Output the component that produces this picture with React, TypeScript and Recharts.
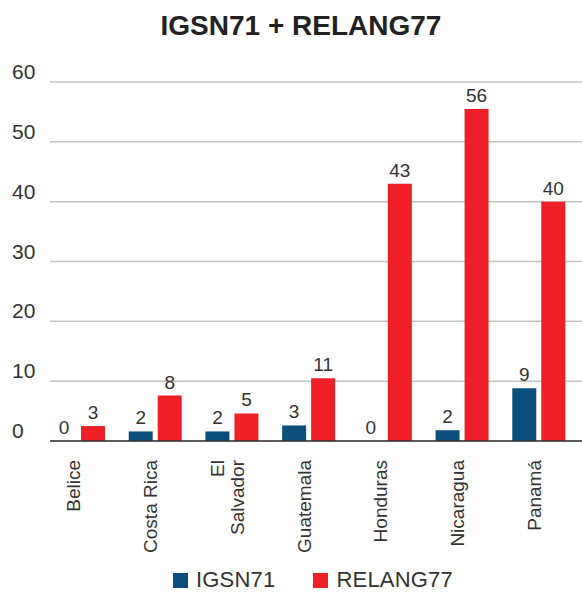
import React, { useEffect } from "react";
import {
  BarChart,
  Bar,
  XAxis,
  YAxis,
  CartesianGrid,
  Legend,
  LabelList,
} from "recharts";

// values
const countries = [
  "Belice",
  "Costa Rica",
  "El Salvador",
  "Guatemala",
  "Honduras",
  "Nicaragua",
  "Panamá",
];
const igsn71 = [0, 1.6, 1.6, 2.6, 0, 1.8, 8.8];
const relang77 = [2.5, 7.6, 4.6, 10.5, 43, 55.5, 40];
const yTicks = [0, 10, 20, 30, 40, 50, 60];

const data = countries.map((name, i) => ({
  name,
  igsn: igsn71[i],
  relang: relang77[i],
}));

const FONT = "'Liberation Sans', Arial, Helvetica, sans-serif";
const TEXT = "#333333";
const BLUE = "#0c4f7c";
const RED = "#ee1f26";

const YTick = (props: any) => {
  const { y, payload } = props;
  return (
    <text x={12} y={y - 3} fontSize={21} fill={TEXT} fontFamily={FONT}>
      {payload.value}
    </text>
  );
};

const XTick = (props: any) => {
  const { x, y, payload } = props;
  const label: string = payload.value;
  // El Salvador is split onto two lines in the original
  const lines = label === "El Salvador" ? ["El", "Salvador"] : [label];
  const lh = 20;
  const base = x - 5 + 7 - ((lines.length - 1) * lh) / 2;
  return (
    <g>
      {lines.map((ln, i) => (
        <text
          key={i}
          x={0}
          y={0}
          transform={`translate(${base + i * lh}, ${y + 11}) rotate(-90)`}
          textAnchor="end"
          fontSize={19}
          fill={TEXT}
          fontFamily={FONT}
        >
          {ln}
        </text>
      ))}
    </g>
  );
};

const BarValue = (props: any) => {
  const { x, y, width, height, value } = props;
  const top = Math.min(y, y + height);
  return (
    <text
      x={x + width / 2}
      y={top - 7}
      textAnchor="middle"
      fontSize={19}
      fill={TEXT}
      fontFamily={FONT}
    >
      {Math.round(Number(value))}
    </text>
  );
};

const LegendBox = (props: any) => {
  const items = props.payload || [];
  return (
    <div
      style={{
        display: "flex",
        justifyContent: "center",
        paddingLeft: 34,
        fontFamily: FONT,
        fontSize: 22,
        letterSpacing: 0.2,
        color: TEXT,
        paddingTop: 12,
      }}
    >
      {items.map((it: any, i: number) => (
        <div
          key={i}
          style={{ display: "flex", alignItems: "center", marginRight: i === 0 ? 38 : 0 }}
        >
          <span
            style={{ width: 15, height: 15, background: it.color, marginRight: 8, display: "inline-block" }}
          />
          <span>{it.value}</span>
        </div>
      ))}
    </div>
  );
};

export default function App() {
  useEffect(() => {
    document.body.style.margin = "0";
  }, []);

  return (
    <div style={{ position: "relative", width: 582, height: 595, background: "#fff" }}>
      <div
        style={{
          position: "absolute",
          top: 10,
          left: 10,
          width: 582,
          textAlign: "center",
          fontFamily: FONT,
          fontWeight: "bold",
          fontSize: 28,
          color: "#222",
        }}
      >
        IGSN71 + RELANG77
      </div>
      <BarChart
        width={582}
        height={595}
        data={data}
        margin={{ top: 82, right: 0, bottom: 0, left: 10 }}
        barSize={24}
        barGap={5}
      >
        <CartesianGrid vertical={false} stroke="#c4c4c4" strokeWidth={1.5} />
        <XAxis
          dataKey="name"
          height={114}
          tickLine={false}
          axisLine={{ stroke: "#333", strokeWidth: 1.5 }}
          tick={<XTick />}
          interval={0}
          padding={{ left: -10, right: 5 }}
        />
        <YAxis
          width={40}
          domain={[0, 60]}
          ticks={yTicks}
          axisLine={false}
          tickLine={false}
          tick={<YTick />}
        />
        <Legend verticalAlign="bottom" height={40} content={<LegendBox />} />
        <Bar
          dataKey="igsn"
          name="IGSN71"
          fill={BLUE}
          minPointSize={0.01}
          isAnimationActive={false}
        >
          <LabelList dataKey="igsn" content={<BarValue />} />
        </Bar>
        <Bar
          dataKey="relang"
          name="RELANG77"
          fill={RED}
          minPointSize={0.01}
          isAnimationActive={false}
        >
          <LabelList dataKey="relang" content={<BarValue />} />
        </Bar>
      </BarChart>
    </div>
  );
}
